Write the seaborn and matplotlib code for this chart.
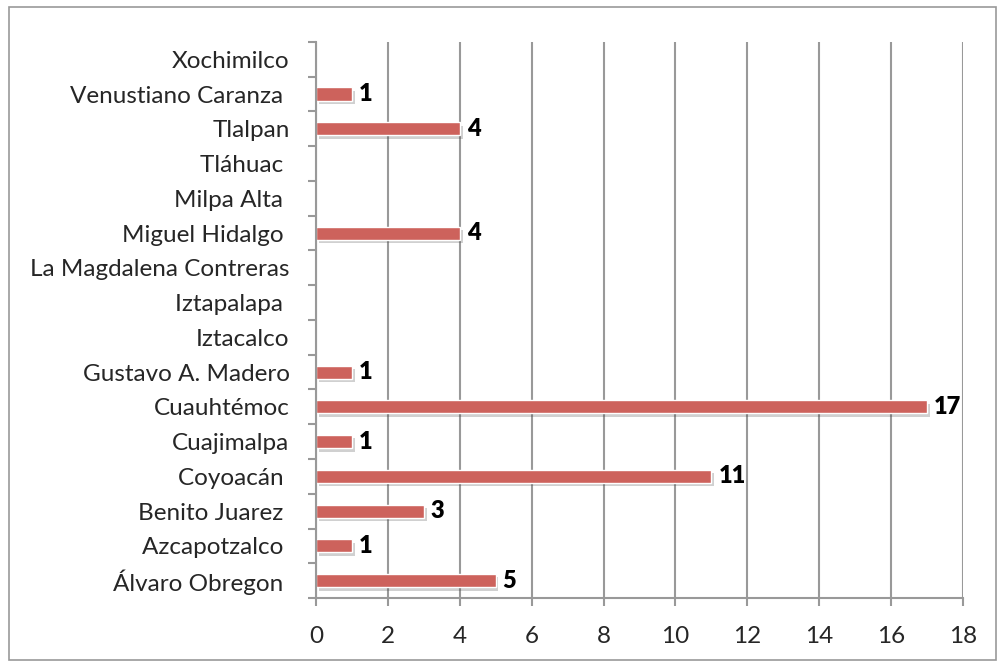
import numpy as np
import pandas as pd
import seaborn as sns
import matplotlib.pyplot as plt
import matplotlib.patheffects as pe
from matplotlib.patches import Rectangle

# datos (de arriba hacia abajo)
delegaciones = ['Xochimilco', 'Venustiano Caranza ', 'Tlalpan', 'Tláhuac ', 'Milpa Alta ',
                'Miguel Hidalgo ', 'La Magdalena Contreras', 'Iztapalapa ', 'Iztacalco',
                'Gustavo A. Madero', 'Cuauhtémoc', 'Cuajimalpa', 'Coyoacán ',
                'Benito Juarez ', 'Azcapotzalco ', 'Álvaro Obregon ']
valores = [0, 1, 4, 0, 0, 4, 0, 0, 0, 1, 17, 1, 11, 3, 1, 5]
xticks = [0, 2, 4, 6, 8, 10, 12, 14, 16, 18]

df = pd.DataFrame({'Delegacion': delegaciones, 'Valor': valores})

sns.set_theme(style="white")
plt.rcParams['font.family'] = ['Lato', 'DejaVu Sans']

fig = plt.figure(figsize=(9.99, 6.61), dpi=100)
ax = fig.add_axes([0.3163, 0.0953, 0.6477, 0.8412])

sns.barplot(data=df, x='Valor', y='Delegacion', order=delegaciones, orient='h',
            color='#CD625C', saturation=1, width=0.38, ax=ax,
            edgecolor='white', linewidth=1)

# sombra suave bajo las barras
for p in ax.patches:
    p.set_path_effects([pe.SimplePatchShadow(offset=(2, -2.5), alpha=0.25, shadow_rgbFace='#444444'),
                        pe.Normal()])

for i, v in enumerate(valores):
    if v > 0:
        ax.annotate(str(v), (v, i), xytext=(5, 0), textcoords='offset points',
                    ha='left', va='center', fontsize=17, fontweight='heavy', color='black')

ax.set_xlim(0, 18)
ax.set_ylim(15.5, -0.5)
ax.set_xticks(xticks)
ax.set_xticklabels([str(t) for t in xticks], fontsize=17.5)
ax.set_yticks(range(len(delegaciones)))
ax.set_yticklabels(delegaciones, fontsize=17.5)
ax.set_yticks(np.arange(-0.5, len(delegaciones), 1), minor=True)
ax.tick_params(axis='y', which='major', length=0, pad=19)
ax.tick_params(axis='y', which='minor', length=6, width=1.5, color='#999999', direction='out', left=True)
ax.tick_params(axis='x', which='major', length=6, width=1.5, color='#999999', direction='out',
               bottom=True, pad=14)
ax.set_xlabel('')
ax.set_ylabel('')

ax.grid(axis='x', color='#999999', linewidth=1.5)
ax.set_axisbelow(True)
for s in ['top', 'right']:
    ax.spines[s].set_visible(False)
for s in ['left', 'bottom']:
    ax.spines[s].set_color('#999999')
    ax.spines[s].set_linewidth(1.5)

fig.patches.append(Rectangle((9 / 999, 1 / 661), 987 / 999, 653 / 661, transform=fig.transFigure,
                             fill=False, edgecolor='#999999', linewidth=1.2))

fig.savefig('out.png', dpi=100)
